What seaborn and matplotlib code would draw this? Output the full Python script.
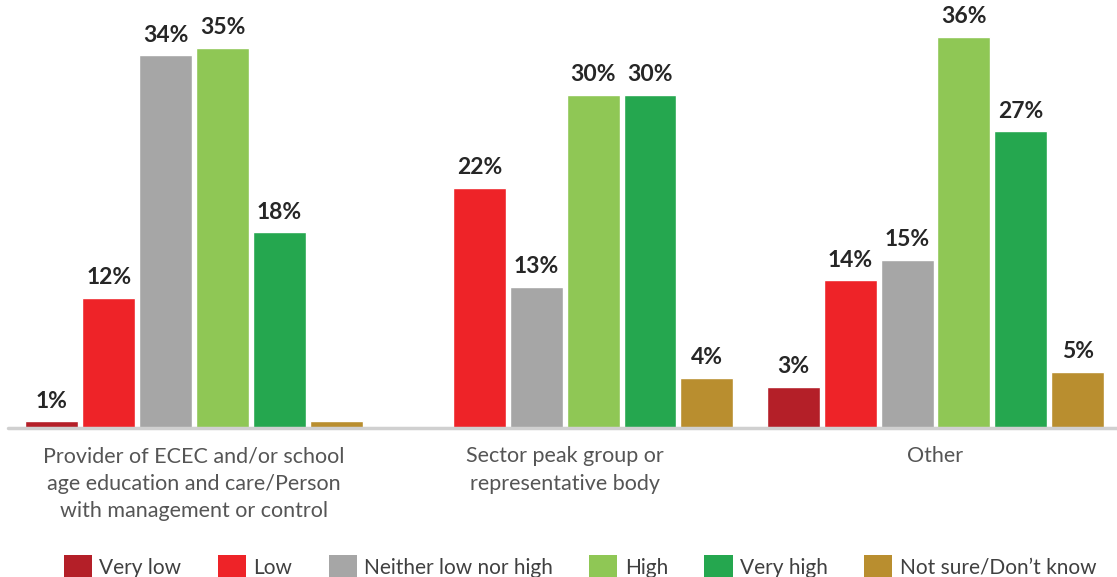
import matplotlib
matplotlib.use("Agg")
import matplotlib.pyplot as plt
from matplotlib.patches import Patch
import seaborn as sns
import pandas as pd

groups = ["Provider of ECEC and/or school\nage education and care/Person\nwith management or control",
          "Sector peak group or\nrepresentative body",
          "Other"]
levels = ["Very low", "Low", "Neither low nor high", "High", "Very high", "Not sure/Don\u2019t know"]
# bar heights (percent)
very_low = [0.6, 0, 3.8]
low = [12, 22.1, 13.6]
neither = [34.3, 13, 15.5]
high = [35, 30.7, 36]
very_high = [18, 30.7, 27.3]
not_sure = [0.6, 4.6, 5.2]
# printed labels
very_low_lbl = ["1%", "", "3%"]
low_lbl = ["12%", "22%", "14%"]
neither_lbl = ["34%", "13%", "15%"]
high_lbl = ["35%", "30%", "36%"]
very_high_lbl = ["18%", "30%", "27%"]
not_sure_lbl = ["", "4%", "5%"]
colors = ["#B41F28", "#EE2328", "#A6A6A6", "#8FC755", "#25A74F", "#B98E2F"]

series = [very_low, low, neither, high, very_high, not_sure]
series_lbl = [very_low_lbl, low_lbl, neither_lbl, high_lbl, very_high_lbl, not_sure_lbl]
rows = []
for lvl, vals in zip(levels, series):
    for g, v in zip(groups, vals):
        rows.append({"group": g, "level": lvl, "value": v})
df = pd.DataFrame(rows)

sns.set_theme(style="white")
plt.rcParams["font.family"] = ["Lato", "DejaVu Sans"]

fig = plt.figure(figsize=(11.17, 5.77), dpi=100)
ax = fig.add_axes([0.0, (577 - 428) / 577, 1.0, 428 / 577])

sns.barplot(data=df, x="group", y="value", hue="level", order=groups, hue_order=levels,
            palette=colors, width=0.92, gap=0.07, ax=ax, legend=False, saturation=1,
            errorbar=None)

for cont, lbls in zip(ax.containers, series_lbl):
    ax.bar_label(cont, labels=lbls, padding=7, fontsize=16.5, fontweight="bold", color="#262626")

ax.set_xlim(-194 / 370.75, (1117 - 194) / 370.75)
ax.set_ylim(0, 39.4)
ax.axhline(0, xmin=8 / 1117, xmax=1, color="#D0D0D0", lw=2.5, zorder=5, clip_on=False)
for s in ax.spines.values():
    s.set_visible(False)
ax.set_yticks([])
ax.set_xlabel("")
ax.set_ylabel("")
ax.tick_params(axis="x", length=0, pad=13, labelsize=15.5, labelcolor="#555555")
for t in ax.get_xticklabels():
    t.set_linespacing(1.48)
    t.set_verticalalignment("top")

handles = [Patch(facecolor=c, edgecolor="none", label=l) for c, l in zip(colors, levels)]
fig.legend(handles=handles, loc="lower center", bbox_to_anchor=(580 / 1117, -0.035), ncol=6,
           frameon=False, fontsize=15, handlelength=1.35, handleheight=1.35,
           handletextpad=0.35, columnspacing=1.75, labelcolor="#404040")

fig.savefig("out.png", dpi=100)
